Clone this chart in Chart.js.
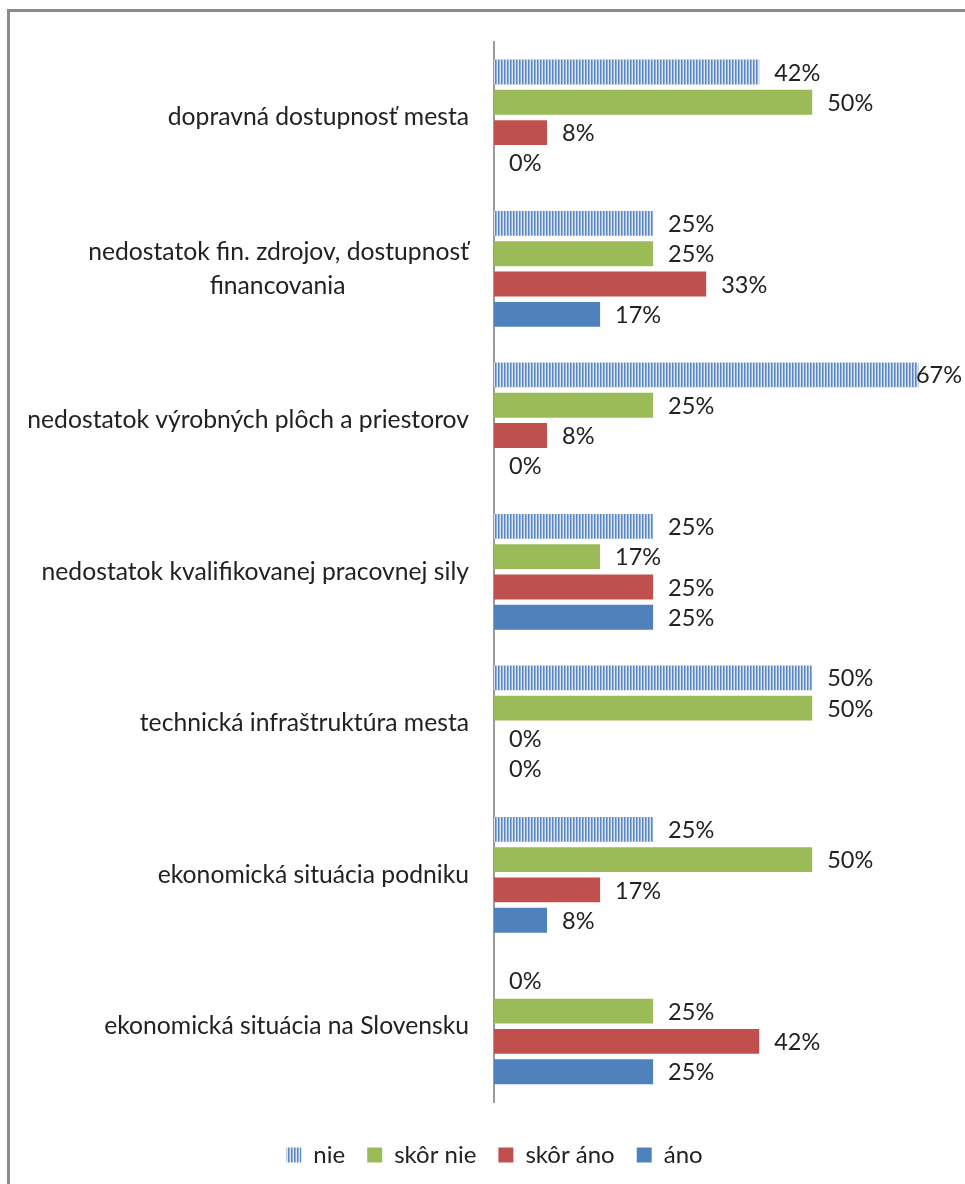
<!DOCTYPE html>
<html>
<head>
<meta charset="utf-8">
<script src="https://cdn.jsdelivr.net/npm/chart.js@4"></script>
<style>
  html, body { margin: 0; padding: 0; background: #fff; overflow: hidden; }
  #wrap { position: relative; width: 965px; height: 1184px; overflow: hidden; }
  #frame { position: absolute; left: 7px; top: 9px; width: 1200px; height: 1400px;
           border-left: 3px solid #8c8c8c; border-top: 3px solid #8c8c8c; box-sizing: border-box; }
  canvas { position: absolute; left: 0; top: 0; }
</style>
</head>
<body>
<div id="wrap">
  <div id="frame"></div>
  <canvas id="c" width="965" height="1184"></canvas>
</div>
<script>
// ---- data ----
const categories = [
  'dopravná dostupnosť mesta',
  ['nedostatok fin. zdrojov, dostupnosť', 'financovania'],
  'nedostatok výrobných plôch a priestorov',
  'nedostatok kvalifikovanej pracovnej sily',
  'technická infraštruktúra mesta',
  'ekonomická situácia podniku',
  'ekonomická situácia na Slovensku'
];
const seriesNames = ['nie', 'skôr nie', 'skôr áno', 'áno'];
const nie      = [41.67, 25, 66.67, 25, 50, 25, 0];
const skorNie  = [50, 25, 25, 16.67, 50, 50, 25];
const skorAno  = [8.33, 33.33, 8.33, 25, 0, 16.67, 41.67];
const ano      = [0, 16.67, 0, 25, 0, 8.33, 25];
const xMax = 74;

// ---- styles ----
const FONT = 'Lato, "Open Sans", sans-serif';
const ctx = document.getElementById('c').getContext('2d');
function hatchTile() {
  const p = document.createElement('canvas');
  p.width = 3; p.height = 4;
  const g = p.getContext('2d');
  g.fillStyle = '#dce6f3'; g.fillRect(0, 0, 3, 4);
  g.fillStyle = '#5b87c2'; g.fillRect(0, 0, 1, 4);
  g.fillStyle = '#93b2db'; g.fillRect(1, 0, 1, 4);
  return p;
}
const hatch = ctx.createPattern(hatchTile(), 'repeat');
const colors = [hatch, '#9bbb59', '#c0504d', '#4f81bd'];
const values = [nie, skorNie, skorAno, ano];

const labelPlugin = {
  id: 'valueLabels',
  afterDatasetsDraw(chart) {
    const c = chart.ctx;
    c.save();
    c.font = '23.5px ' + FONT;
    c.fillStyle = '#222';
    c.textBaseline = 'middle';
    c.textAlign = 'left';
    chart.data.datasets.forEach((ds, di) => {
      const meta = chart.getDatasetMeta(di);
      meta.data.forEach((el, i) => {
        const txt = Math.round(ds.data[i]) + '%';
        const w = c.measureText(txt).width;
        let x = el.x + 15;
        if (x + w > chart.width - 3) x = chart.width - 3 - w;
        c.fillText(txt, x, el.y + 1);
      });
    });
    c.restore();
  }
};

const legendShift = {
  id: 'legendShift',
  afterLayout(chart) {
    if (chart.legend) { chart.legend.left += 12; chart.legend.right += 12; }
  }
};

new Chart(ctx, {
  type: 'bar',
  data: {
    labels: categories,
    datasets: seriesNames.map((n, i) => ({
      label: n,
      data: values[i],
      backgroundColor: colors[i],
      borderWidth: 0,
      categoryPercentage: 0.8,
      barPercentage: 0.82
    }))
  },
  options: {
    indexAxis: 'y',
    responsive: false,
    animation: false,
    layout: { padding: { top: 38, right: 0, left: 0, bottom: 7 } },
    scales: {
      x: {
        min: 0, max: xMax,
        grid: { display: false },
        border: { display: false },
        ticks: { display: false },
        afterFit(s) { s.height = 19; }
      },
      y: {
        grid: { display: false, drawTicks: false },
        border: { display: true, color: '#9a9a9a', width: 2 },
        ticks: {
          color: '#222',
          padding: 25,
          font: { family: FONT, size: 24.7, lineHeight: 1.35 },
          callback(v, i) {
            const l = categories[i];
            return Array.isArray(l) ? [l[0], l[1] + '\u2003'.repeat(6) + '\u2002'] : l;
          }
        },
        afterFit(s) { s.width = 494; }
      }
    },
    plugins: {
      legend: {
        position: 'bottom',
        labels: {
          color: '#222',
          font: { family: FONT, size: 24 },
          boxWidth: 15, boxHeight: 15,
          padding: 22
        }
      },
      tooltip: { enabled: false }
    }
  },
  plugins: [labelPlugin, legendShift]
});
</script>
</body>
</html>
